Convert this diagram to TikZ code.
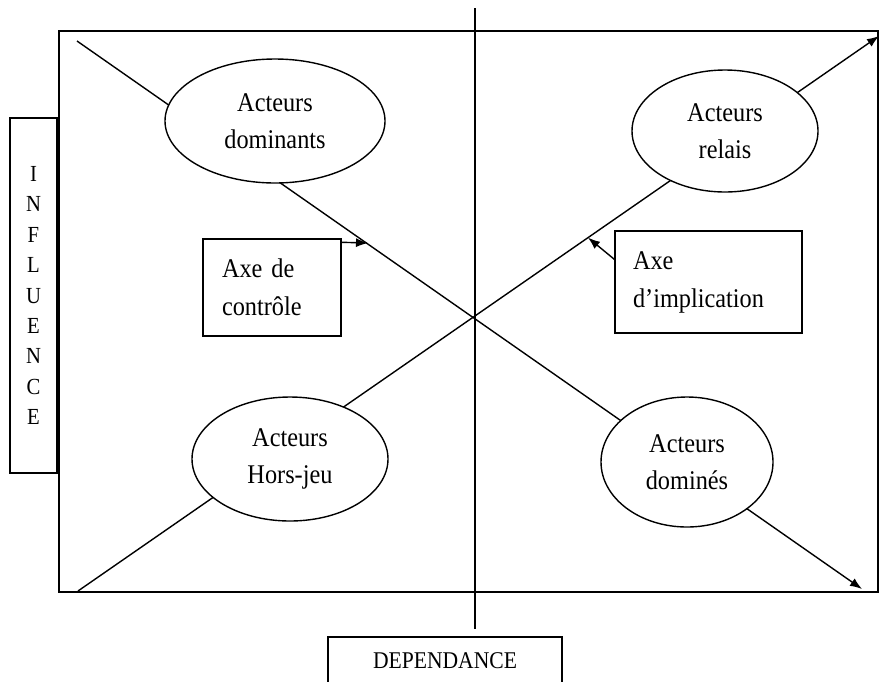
\documentclass[tikz,border=0pt]{standalone}
\usepackage{fontspec}
\setmainfont{Liberation Serif}[FakeStretch=0.9]
\usetikzlibrary{shapes.geometric,arrows.meta,calc}
\begin{document}
\begin{tikzpicture}[x=1pt,y=-1pt,
  line width=1.4pt,
  ell/.style={ellipse,draw,fill=white,inner sep=0pt,align=center,font=\fontsize{27}{37}\selectfont},
  axebox/.style={draw,fill=white,align=left,inner ysep=0pt,font=\fontsize{27}{38}\selectfont},
  tipline/.style={-{Latex[length=12pt,width=9pt]}},
  sidebox/.style={draw,fill=white,inner sep=0pt,align=center,font=\fontsize{23}{30.4}\selectfont}
]
\useasboundingbox (0,0) rectangle (882,681);
% frame
\draw (59,31) rectangle (878,592);
% axes coordinates
\coordinate (d1s) at (77,41);
\coordinate (d1e) at (862,589);
\coordinate (d2s) at (78,591);
\coordinate (d2e) at (879,36);
\coordinate (vtop) at (475,8);
\coordinate (vbot) at (475,629);
\draw (vtop) -- (vbot);
\draw[tipline] (d1s) -- (d1e);
\draw[tipline] (d2s) -- (d2e);
% ellipses
\node[ell,minimum width=220pt,minimum height=124pt] (dom) at (275,121) {Acteurs\\dominants};
\node[ell,minimum width=186pt,minimum height=122pt] (rel) at (725,131) {Acteurs\\relais};
\node[ell,minimum width=196pt,minimum height=124pt] (hj) at (290,459) {Acteurs\\Hors-jeu};
\node[ell,minimum width=172pt,minimum height=130pt] (dmd) at (687,462) {Acteurs\\dominés};
% axis label boxes
\node[axebox,text width=100pt,inner xsep=19pt,minimum height=97pt] (ctrl) at (272,287.5) {Axe de\\contrôle};
\node[axebox,text width=151pt,inner xsep=18pt,minimum height=102pt] (impl) at (708.5,282) {Axe\\d’implication};
\coordinate (ctip) at (368,243);
\coordinate (itip) at ($(d2s)!0.6367!(d2e)$);
\draw[tipline] ([yshift=-4pt]ctrl.north east) -- (ctip);
\draw[tipline] ([yshift=-29pt]impl.north west) -- (itip);
% side labels
\node[sidebox,minimum width=47pt,minimum height=355pt] (infl) at (33.5,295.5) {I\\N\\F\\L\\U\\E\\N\\C\\E};
\node[sidebox,font=\fontsize{24}{30}\selectfont,minimum width=234pt,minimum height=48pt] (dep) at (445,661) {DEPENDANCE};
\end{tikzpicture}
\end{document}
